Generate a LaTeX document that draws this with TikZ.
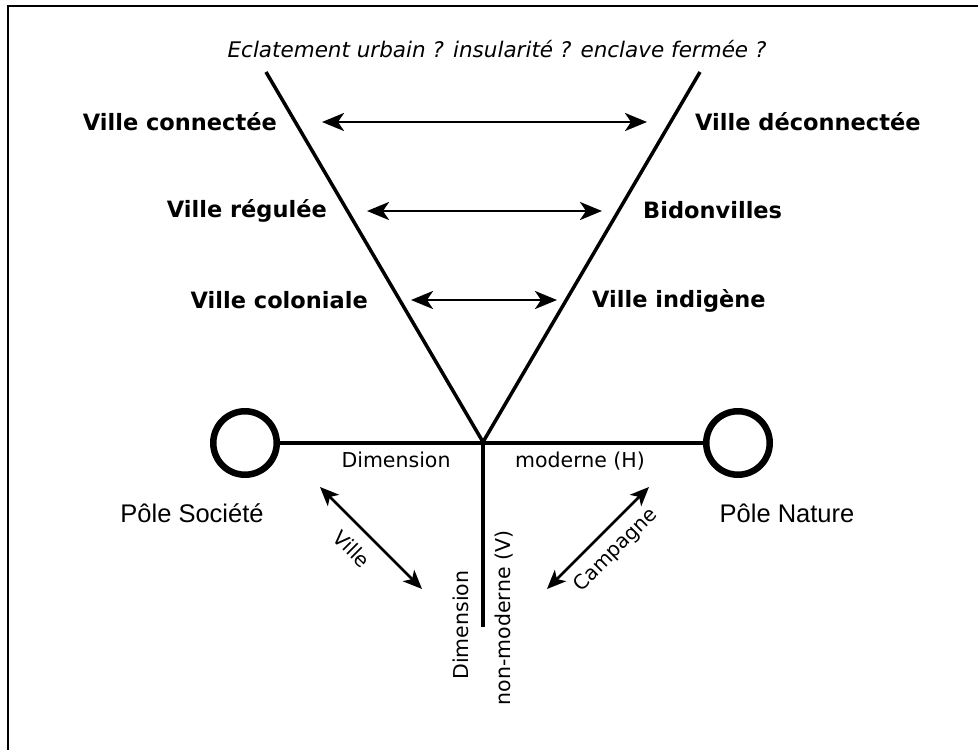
\documentclass[tikz,border=0pt]{standalone}
\usepackage{fontspec}
\setmainfont{DejaVu Sans}
\newfontfamily\libsans{Liberation Sans}
\usetikzlibrary{arrows.meta}
\tikzset{
  px/.style={x=1pt,y=-1pt},
  bold/.style={inner sep=0pt,font=\fontsize{22.5}{27}\selectfont\bfseries},
  plain/.style={inner sep=0pt,font=\fontsize{20.5}{24}\selectfont},
  pole/.style={inner sep=0pt,font=\fontsize{25.5}{30}\selectfont\libsans},
  diag/.style={inner sep=0pt,font=\fontsize{20}{24}\selectfont},
  heavy/.style={line width=3.5pt},
  ring/.style={circle,draw,line width=6.5pt,minimum size=63.5pt,inner sep=0pt},
  dblarrow/.style={line width=2.8pt,{Stealth[length=22pt,width=18pt,inset=6pt]}-{Stealth[length=22pt,width=18pt,inset=6pt]}},
  smallarrow/.style={line width=2.6pt,{Stealth[length=19pt,width=16pt,inset=5pt]}-{Stealth[length=19pt,width=16pt,inset=5pt]}},
  frameline/.style={line width=2pt}
}
\begin{document}
\begin{tikzpicture}[px]
\useasboundingbox (0,0) rectangle (978,750);
% frame
\coordinate (fb) at (8,750);
\coordinate (fc) at (8,6);
\coordinate (fr) at (978,6);
\draw[frameline] (fb) -- (fc) -- (fr);

% title
\node[inner sep=0pt,font=\fontsize{21.5}{25}\selectfont\itshape,anchor=base] (title) at (497,57) {Eclatement urbain ? insularité ? enclave fermée ?};

% V shape
\coordinate (vtl) at (266,72);
\coordinate (vtr) at (700,72);
\coordinate (vx) at (483,442);
\coordinate (vb) at (483,627);
\draw[heavy] (vtl) -- (vx) -- (vtr);

% circles and axes
\node[ring] (lc) at (245,443) {};
\node[ring] (rc) at (738,443) {};
\draw[heavy] (lc.east) -- (rc.west);
\draw[heavy] (vx) -- (vb);

% labels
\node[bold,anchor=base east] (vc) at (277,130) {Ville connectée};
\node[bold,anchor=base west] (vd) at (695,130) {Ville déconnectée};
\node[bold,anchor=base east] (vr) at (327,217) {Ville régulée};
\node[bold,anchor=base west] (bv) at (643,218) {Bidonvilles};
\node[bold,anchor=base east] (vco) at (368,308) {Ville coloniale};
\node[bold,anchor=base west] (vi) at (592,307) {Ville indigène};

% horizontal arrows
\coordinate (a1l) at (322,122); \coordinate (a1r) at (647,122);
\coordinate (a2l) at (367,211); \coordinate (a2r) at (602,211);
\coordinate (a3l) at (411,300); \coordinate (a3r) at (557,300);
\draw[dblarrow] (a1l) -- (a1r);
\draw[dblarrow] (a2l) -- (a2r);
\draw[dblarrow] (a3l) -- (a3r);

% poles
\node[pole,anchor=base] (ps) at (192,522) {Pôle Société};
\node[pole,anchor=base] (pn) at (787,522) {Pôle Nature};

% dimension labels
\node[plain,anchor=base] (dh1) at (396,467) {Dimension};
\node[plain,anchor=base] (dh2) at (580,467) {moderne (H)};
\node[plain,anchor=base,rotate=90] (dv1) at (468,625) {Dimension};
\node[plain,anchor=base,rotate=90] (dv2) at (510,618) {non-moderne (V)};

% diagonal arrows
\coordinate (d1a) at (320,487); \coordinate (d1b) at (422,589);
\coordinate (d2a) at (649,487); \coordinate (d2b) at (547,589);
\draw[smallarrow] (d1a) -- (d1b);
\draw[smallarrow] (d2a) -- (d2b);
\node[diag,rotate=-45] (lv) at (352,549) {Ville};
\node[diag,rotate=45] (lcp) at (616,550) {Campagne};
\end{tikzpicture}
\end{document}
